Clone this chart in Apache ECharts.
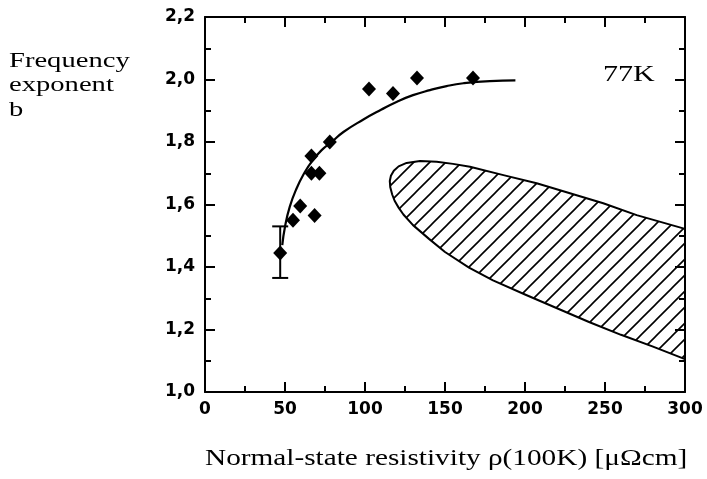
<!DOCTYPE html>
<html><head><meta charset="utf-8">
<script src="https://cdn.jsdelivr.net/npm/echarts@6/dist/echarts.min.js"></script>
<style>html,body{margin:0;padding:0;background:#fff}#c{width:707px;height:479px}</style>
</head><body><div id="c"></div>
<script>
// measured points (diamonds)
const pointsX = [47, 55, 59.5, 68.5, 66.5, 71.5, 66.5, 78, 102.5, 117.5, 132.5, 167.5];
const pointsY = [1.445, 1.55, 1.595, 1.565, 1.70, 1.70, 1.755, 1.80, 1.97, 1.955, 2.005, 2.005];
// fitted curve
const fitX = [48.3, 50, 53, 57.3, 62, 66.7, 72.9, 79.2, 86.5, 99, 110, 120, 130, 140.6, 151, 161.5, 178, 194];
const fitY = [1.47, 1.529, 1.593, 1.652, 1.70, 1.737, 1.774, 1.80, 1.832, 1.872, 1.903, 1.929, 1.95, 1.966, 1.979, 1.988, 1.995, 1.997];
// error bar
const errX = [47];
const errLow = [1.365];
const errHigh = [1.53];
// hatched region outline (top edge left->right, then bottom edge right->left)
const regionX = [115.5, 116.2, 118, 121, 126, 134.4, 144.8, 155, 165.6, 186.5, 207.3, 228.1, 248.9, 269.8, 300,
                 300, 280, 260, 240, 220, 200, 180, 165, 150, 140, 130, 124, 121, 118.5, 117, 115.8];
const regionY = [1.675, 1.692, 1.708, 1.722, 1.733, 1.739, 1.737, 1.730, 1.721, 1.694, 1.668, 1.636, 1.604, 1.566, 1.522,
                 1.105, 1.145, 1.183, 1.224, 1.268, 1.312, 1.357, 1.398, 1.448, 1.49, 1.534, 1.568, 1.59, 1.612, 1.632, 1.655];
// texts
const yTitleLines = ['Frequency', 'exponent', 'b'];
const xTitle = 'Normal-state resistivity \u03c1(100K) [\u03bc\u03a9cm]';
const tempLabel = '77K';

function hatchCanvas() {
  const c = document.createElement('canvas');
  c.width = 16; c.height = 16;
  const g = c.getContext('2d');
  g.strokeStyle = '#000'; g.lineWidth = 1.6;
  g.beginPath();
  g.moveTo(-2, 18); g.lineTo(18, -2);
  g.moveTo(-2, 2); g.lineTo(2, -2);
  g.moveTo(14, 18); g.lineTo(18, 14);
  g.stroke();
  return c;
}
const hatch = hatchCanvas();

const chart = echarts.init(document.getElementById('c'), null, {renderer: 'canvas'});
const axisLine = {onZero: false, lineStyle: {color: '#000', width: 2}};
const tick = {show: true, inside: true, length: 10, lineStyle: {color: '#000', width: 2}};
const minor = {show: true, splitNumber: 2, length: 6, lineStyle: {color: '#000', width: 2}};
const lbl = {color: '#000', fontFamily: 'DejaVu Sans', fontWeight: 'bold', fontSize: 17, showMinLabel: true, showMaxLabel: true};

chart.setOption({
  animation: false,
  backgroundColor: '#fff',
  grid: {left: 205, right: 22, top: 17, bottom: 87, containLabel: false},
  xAxis: [
    {type: 'value', min: 0, max: 300, interval: 50, position: 'bottom', axisLine, axisTick: tick, minorTick: minor,
     splitLine: {show: false}, minorSplitLine: {show: false}, axisLabel: Object.assign({margin: 9}, lbl)},
    {type: 'value', min: 0, max: 300, interval: 50, position: 'top', axisLine, axisTick: tick, minorTick: minor,
     splitLine: {show: false}, minorSplitLine: {show: false}, axisLabel: {show: false}}
  ],
  yAxis: [
    {type: 'value', min: 1.0, max: 2.2, interval: 0.2, position: 'left', axisLine, axisTick: tick, minorTick: minor,
     splitLine: {show: false}, minorSplitLine: {show: false},
     axisLabel: Object.assign({margin: 10, formatter: v => v.toFixed(1).replace('.', ',')}, lbl)},
    {type: 'value', min: 1.0, max: 2.2, interval: 0.2, position: 'right', axisLine, axisTick: tick, minorTick: minor,
     splitLine: {show: false}, minorSplitLine: {show: false}, axisLabel: {show: false}}
  ],
  series: [
    {type: 'custom', coordinateSystem: 'cartesian2d', silent: true, z: 1,
     data: [[regionX[0], regionY[0]]],
     renderItem: (params, api) => {
       const pts = regionX.map((x, i) => api.coord([x, regionY[i]]));
       return {type: 'polygon', shape: {points: pts},
               style: {fill: {image: hatch, repeat: 'repeat'}, stroke: '#000', lineWidth: 2, lineJoin: 'round'}};
     }},
    {type: 'line', data: fitX.map((x, i) => [x, fitY[i]]), smooth: true, showSymbol: false, symbol: 'none',
     lineStyle: {color: '#000', width: 2.2}, z: 2},
    {type: 'custom', coordinateSystem: 'cartesian2d', silent: true, z: 3,
     data: errX.map((x, i) => [x, errLow[i], errHigh[i]]), encode: {x: 0, y: [1, 2]},
     renderItem: (params, api) => {
       const a = api.coord([api.value(0), api.value(1)]);
       const b = api.coord([api.value(0), api.value(2)]);
       const w = 8, st = {stroke: '#000', lineWidth: 2};
       return {type: 'group', children: [
         {type: 'line', shape: {x1: a[0], y1: a[1], x2: b[0], y2: b[1]}, style: st},
         {type: 'line', shape: {x1: a[0] - w, y1: a[1], x2: a[0] + w, y2: a[1]}, style: st},
         {type: 'line', shape: {x1: b[0] - w, y1: b[1], x2: b[0] + w, y2: b[1]}, style: st}
       ]};
     }},
    {type: 'scatter', data: pointsX.map((x, i) => [x, pointsY[i]]), symbol: 'diamond', symbolSize: [14, 15],
     itemStyle: {color: '#000', opacity: 1}, z: 4}
  ],
  graphic: [
    ...yTitleLines.map((t, i) => ({type: 'text', x: 9, y: 61 + i * 24.5, scaleX: 1.3,
      style: {text: t, font: '22px "Liberation Serif"', fill: '#000', align: 'left', verticalAlign: 'middle'}})),
    {type: 'text', x: 205, y: 459, scaleX: 1.22,
     style: {text: xTitle, font: '24px "Liberation Serif"', fill: '#000', align: 'left', verticalAlign: 'middle'}},
    {type: 'text', x: 603, y: 75, scaleX: 1.25,
     style: {text: tempLabel, font: '24px "Liberation Serif"', fill: '#000', align: 'left', verticalAlign: 'middle'}}
  ]
});
</script></body></html>
